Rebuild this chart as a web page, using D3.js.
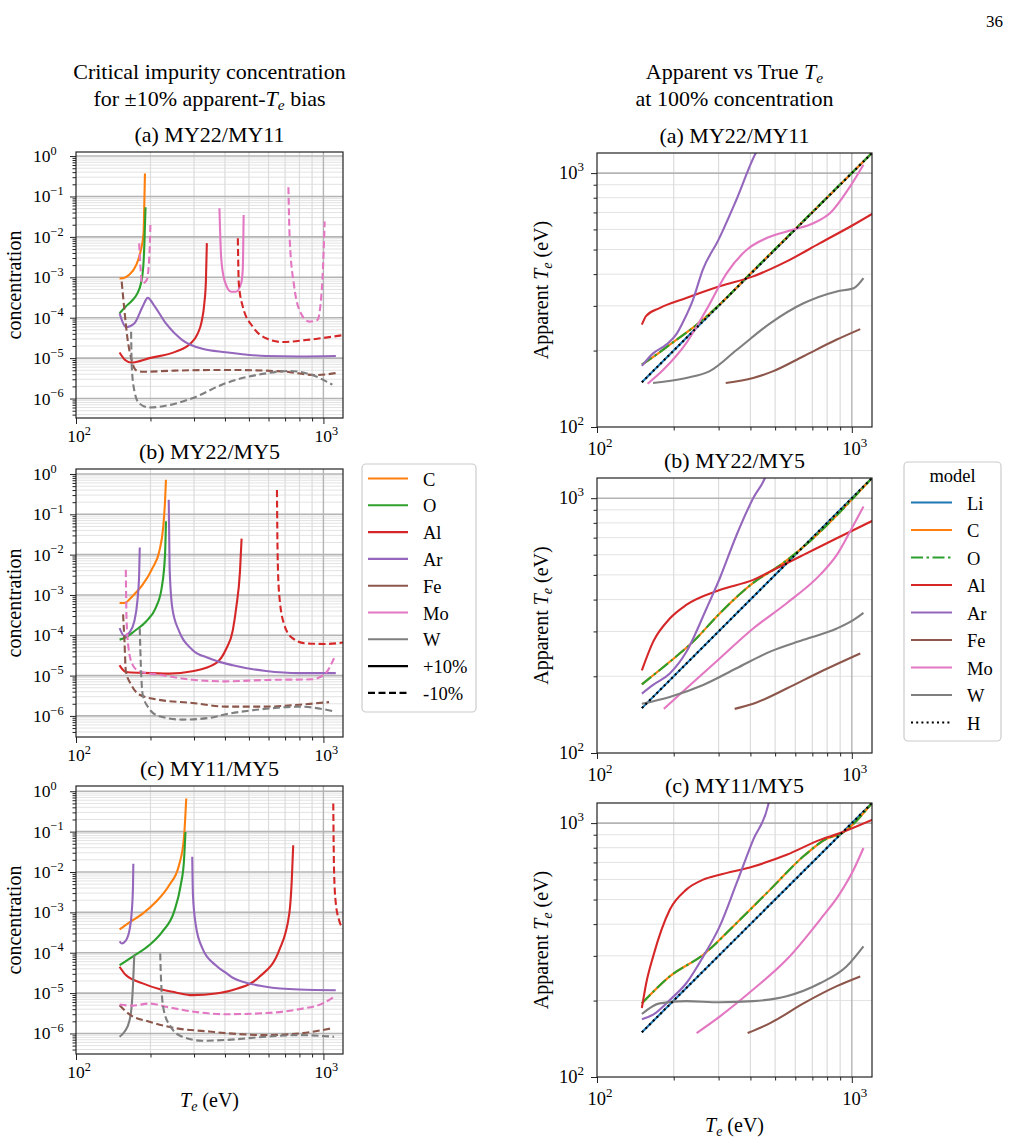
<!DOCTYPE html>
<html>
<head>
<meta charset="utf-8">
<title>Critical impurity concentration and apparent Te</title>
<script src="https://d3js.org/d3.v7.min.js"></script>
<style>
  body { margin: 0; background: #fff; }
  svg text { font-family: "Liberation Serif", "DejaVu Serif", serif; fill: #000; }
</style>
</head>
<body>
<svg id="fig" width="1017" height="1143"></svg>
<script>

// ---- data ------------------------------------------------------------
const elements = ["C", "O", "Al", "Ar", "Fe", "Mo", "W"];
const models = ["Li", "C", "O", "Al", "Ar", "Fe", "Mo", "W", "H"];
const colors = { Li: "#1f77b4", C: "#ff7f0e", O: "#2ca02c", Al: "#d62728", Ar: "#9467bd",
                 Fe: "#8c564b", Mo: "#e377c2", W: "#7f7f7f", H: "#000000" };
const panelTitles = ["(a) MY22/MY11", "(b) MY22/MY5", "(c) MY11/MY5"];
const concMajor = [1, 1e-1, 1e-2, 1e-3, 1e-4, 1e-5, 1e-6];
const teMajor = [100, 1000];
const teMinor = [200, 300, 400, 500, 600, 700, 800, 900];

// critical concentration, points are [true Te (eV), concentration]
const critA = [
  { el: "C", bias: "+", pts: [[150, 9.4e-4], [155, 9.5e-4], [164, 1.15e-3], [175, 2.0e-3], [183, 4.8e-3], [187.5, 1.22e-2], [189, 8.2e-2], [190, 0.37]] },
  { el: "O", bias: "+", pts: [[150, 1.29e-4], [159, 1.9e-4], [169, 2.7e-4], [177, 4.0e-4], [183, 7.1e-4], [187, 1.8e-3], [189, 6.9e-3], [191, 0.054]] },
  { el: "Al", bias: "+", pts: [[150, 1.38e-5], [158, 9e-6], [167, 7.8e-6], [198, 1e-5], [253, 1.45e-5], [290, 2.3e-5], [310, 4e-5], [322, 8e-5], [330, 2.2e-4], [335, 8e-4], [338, 7e-3]] },
  { el: "Ar", bias: "+", pts: [[150, 1.29e-4], [154, 8e-5], [159, 5.8e-5], [172, 7.2e-5], [186, 1.9e-4], [195, 3.1e-4], [207, 2.0e-4], [231, 7.2e-5], [269, 2.8e-5], [324, 1.7e-5], [403, 1.4e-5], [586, 1.13e-5], [798, 1.1e-5], [1123, 1.13e-5]] },
  { el: "Mo", bias: "+", pts: [[380, 0.051], [386, 3.2e-3], [398, 8.5e-4], [424, 4.4e-4], [443, 4.4e-4], [465, 7.1e-4], [472, 1.5e-3], [476, 0.035]] },
  { el: "Al", bias: "-", pts: [[451, 9.2e-3], [455, 7.1e-4], [472, 1.9e-4], [518, 6e-5], [586, 3.1e-5], [684, 2.5e-5], [849, 2.8e-5], [1200, 3.7e-5]] },
  { el: "Fe", bias: "-", pts: [[153, 7.8e-4], [157, 1.5e-4], [161, 3.5e-5], [167, 1e-5], [175, 5e-6], [185, 4.6e-6], [250, 4.9e-6], [403, 5.1e-6], [684, 4.7e-6], [931, 3.8e-6], [1156, 4.4e-6]] },
  { el: "Mo", bias: "-", pts: [[180, 6.9e-3], [182, 2e-3], [185, 7e-4], [193, 8.5e-4], [198, 3.5e-3], [200, 0.024]] },
  { el: "Mo", bias: "-", pts: [[722, 0.17], [731, 8.3e-3], [762, 5.9e-4], [811, 1.29e-4], [875, 8e-5], [946, 8.8e-5], [985, 4.9e-4], [1006, 8.3e-3], [1012, 0.024]] },
  { el: "W", bias: "-", pts: [[167, 4.5e-5], [168, 6.2e-6], [172, 1.6e-6], [180, 7.6e-7], [198, 6e-7], [238, 6.9e-7], [295, 1.02e-6], [403, 2.4e-6], [586, 4.2e-6], [728, 4.8e-6], [903, 3.8e-6], [1087, 2.2e-6]] }
];

const critB = [
  { el: "C", bias: "+", pts: [[150, 6.3e-4], [157, 6.3e-4], [169, 9.3e-4], [186, 1.8e-3], [204, 4.7e-3], [217, 0.012], [225, 0.046], [229, 0.21], [231, 0.72]] },
  { el: "O", bias: "+", pts: [[150, 7.8e-5], [159, 8.9e-5], [172, 1.26e-4], [192, 2.2e-4], [210, 4.8e-4], [222, 1.5e-3], [229, 0.01], [231, 0.067]] },
  { el: "Al", bias: "+", pts: [[150, 1.8e-5], [159, 1.23e-5], [186, 1.17e-5], [238, 1.12e-5], [295, 1.28e-5], [367, 2e-5], [404, 4.5e-5], [430, 1.3e-4], [444, 4.7e-4], [460, 3.8e-3], [467, 0.025]] },
  { el: "Ar", bias: "+", pts: [[150, 1.5e-4], [157, 9.5e-5], [164, 1.15e-4], [172, 2.2e-4], [177, 6.9e-4], [180, 3.2e-3], [181, 0.015]] },
  { el: "Ar", bias: "+", pts: [[237, 0.23], [239, 4.7e-3], [245, 4.8e-4], [261, 1.26e-4], [295, 4.4e-5], [345, 2.7e-5], [430, 1.8e-5], [586, 1.3e-5], [798, 1.15e-5], [1122, 1.15e-5]] },
  { el: "Al", bias: "-", pts: [[649, 0.40], [653, 9.8e-3], [663, 1e-3], [695, 1.8e-4], [750, 8.5e-5], [849, 6.3e-5], [1021, 6.1e-5], [1200, 6.6e-5]] },
  { el: "Fe", bias: "-", pts: [[155, 3.3e-4], [157, 7.1e-5], [159, 1.3e-5], [167, 6e-6], [180, 3.4e-6], [217, 2.5e-6], [295, 2.1e-6], [403, 1.7e-6], [586, 1.7e-6], [798, 1.9e-6], [1054, 2.2e-6]] },
  { el: "Mo", bias: "-", pts: [[159, 4.2e-3], [160, 2.7e-4], [163, 4.9e-5], [169, 1.9e-5], [180, 1.28e-5], [217, 1.05e-5], [295, 7.9e-6], [403, 7.2e-6], [586, 7.8e-6], [903, 8.1e-6], [1021, 1.15e-5], [1104, 2.7e-5]] },
  { el: "W", bias: "-", pts: [[181, 1.5e-4], [183, 1.55e-5], [186, 3.4e-6], [195, 1.7e-6], [217, 9.8e-7], [269, 8.1e-7], [345, 8.9e-7], [403, 1.1e-6], [586, 1.5e-6], [798, 1.7e-6], [1104, 1.3e-6]] }
];

const critC = [
  { el: "C", bias: "+", pts: [[150, 3.8e-4], [164, 5.6e-4], [186, 9.3e-4], [210, 1.8e-3], [238, 4.7e-3], [261, 0.015], [273, 0.068], [279, 0.66]] },
  { el: "O", bias: "+", pts: [[150, 4.9e-5], [169, 7.9e-5], [198, 1.55e-4], [223, 3.3e-4], [249, 1.03e-3], [265, 4.7e-3], [273, 0.018], [277, 0.098]] },
  { el: "Al", bias: "+", pts: [[150, 4.5e-5], [159, 2.8e-5], [186, 1.74e-5], [217, 1.26e-5], [253, 1.04e-5], [295, 8.9e-6], [367, 9.8e-6], [430, 1.2e-5], [550, 2.5e-5], [663, 1.16e-4], [728, 9.3e-4], [745, 6.3e-3], [755, 0.046]] },
  { el: "Ar", bias: "+", pts: [[150, 1.9e-4], [153, 1.7e-4], [159, 2e-4], [165, 4e-4], [168, 1.03e-3], [170, 4.7e-3], [170.5, 0.016]] },
  { el: "Ar", bias: "+", pts: [[295, 0.024], [297, 2.7e-3], [305, 4.8e-4], [324, 1.3e-4], [367, 4.9e-5], [403, 3.2e-5], [430, 2.4e-5], [586, 1.44e-5], [798, 1.23e-5], [1122, 1.18e-5]] },
  { el: "W", bias: "+", pts: [[150, 8.3e-7], [157, 1.1e-6], [164, 1.95e-6], [168, 5e-6], [170, 1.6e-5], [172, 8.7e-5]] },
  { el: "Al", bias: "-", pts: [[1096, 0.5], [1104, 0.011], [1122, 1.7e-3], [1157, 6.4e-4], [1200, 4e-4]] },
  { el: "Fe", bias: "-", pts: [[150, 5e-6], [164, 3e-6], [198, 1.95e-6], [253, 1.35e-6], [345, 1.12e-6], [403, 1.02e-6], [586, 9.1e-7], [798, 1e-6], [1087, 1.35e-6]] },
  { el: "Mo", bias: "-", pts: [[150, 5.2e-6], [169, 4.9e-6], [198, 5.5e-6], [231, 4.6e-6], [295, 3.5e-6], [403, 3e-6], [586, 3.2e-6], [798, 4e-6], [990, 5.5e-6], [1104, 8.1e-6]] },
  { el: "W", bias: "-", pts: [[219, 9.6e-5], [220, 3.4e-5], [222, 1.07e-5], [227, 3.5e-6], [241, 1.5e-6], [269, 8.3e-7], [324, 6.6e-7], [403, 6.9e-7], [586, 8.3e-7], [798, 9.1e-7], [1104, 8.3e-7]] }
];

// apparent vs true Te, points are [true Te (eV), apparent Te (eV)]
const identity = [[150, 150], [1200, 1200]];

const appA_CO = [[150, 176], [175, 196], [193, 211], [250, 256], [300, 301], [400, 402], [1200, 1200]];
const appA = {
  Li: identity, C: appA_CO, O: appA_CO,
  Al: [[150, 253], [156, 274], [176, 294], [224, 322], [303, 358], [410, 392], [555, 449], [750, 530], [1016, 626], [1205, 692]],
  Ar: [[150, 174], [166, 195], [187, 211], [205, 232], [220, 265], [238, 317], [260, 416], [300, 547], [350, 773], [420, 1200], [440, 1300]],
  Fe: [[320, 149], [410, 156], [492, 166], [646, 190], [873, 221], [1079, 243]],
  Mo: [[158, 148], [182, 168], [224, 214], [269, 290], [323, 404], [387, 499], [463, 555], [590, 599], [707, 635], [822, 696], [984, 885], [1111, 1079]],
  W: [[166, 149], [224, 156], [277, 166], [353, 201], [478, 256], [646, 307], [873, 342], [1016, 352], [1111, 386]],
  H: identity
};

const appB_CO = [[150, 186], [193, 228], [238, 273], [303, 353], [410, 465], [522, 545], [600, 606], [1200, 1200]];
const appB = {
  Li: identity, C: appB_CO, O: appB_CO,
  Al: [[150, 211], [166, 273], [193, 337], [224, 381], [303, 436], [410, 478], [507, 531], [646, 599], [873, 696], [1205, 815]],
  Ar: [[150, 171], [166, 185], [193, 205], [224, 249], [269, 369], [303, 484], [353, 717], [410, 1000], [456, 1200], [470, 1300]],
  Fe: [[347, 149], [410, 156], [555, 179], [750, 208], [1079, 246]],
  Mo: [[183, 149], [224, 179], [303, 235], [410, 308], [555, 387], [750, 500], [873, 599], [984, 740], [1111, 927]],
  W: [[150, 156], [193, 166], [261, 185], [353, 215], [478, 250], [646, 278], [873, 308], [1016, 333], [1111, 355]],
  H: identity
};

const appC_CO = [[150, 195], [193, 249], [261, 303], [353, 404], [478, 547], [646, 740], [800, 870], [900, 905], [1200, 1200]];
const appC = {
  Li: identity, C: appC_CO, O: appC_CO,
  Al: [[150, 187], [156, 234], [166, 298], [193, 456], [224, 547], [261, 599], [303, 626], [410, 675], [555, 750], [750, 859], [900, 914], [1205, 1031]],
  Ar: [[150, 169], [166, 176], [193, 201], [224, 234], [261, 298], [303, 392], [353, 580], [410, 859], [470, 1180], [480, 1300]],
  Fe: [[390, 149], [478, 163], [646, 195], [873, 228], [1079, 249]],
  Mo: [[246, 149], [303, 173], [410, 221], [555, 290], [750, 416], [900, 530], [1016, 655], [1111, 798]],
  W: [[150, 177], [176, 195], [224, 199], [303, 197], [410, 199], [555, 208], [750, 234], [955, 273], [1111, 327]],
  H: identity
};

// ---- drawing ---------------------------------------------------------
const svg = d3.select("#fig");

const leftPanels = [
  { data: critA, x0: 76, x1: 343, y0: 152, y1: 418, yDom: [3.3e-7, 1.26] },
  { data: critB, x0: 76, x1: 343, y0: 469, y1: 737, yDom: [3.0e-7, 1.33] },
  { data: critC, x0: 76, x1: 343, y0: 786, y1: 1054, yDom: [3.1e-7, 1.35] }
];
const rightPanels = [
  { data: appA, x0: 597, x1: 872, y0: 153, y1: 427 },
  { data: appB, x0: 597, x1: 872, y0: 478, y1: 753 },
  { data: appC, x0: 597, x1: 872, y0: 803, y1: 1077 }
];

// text with optional italic / sub / superscript parts
function richText(g, x, y, parts, size, anchor) {
  const t = g.append("text").attr("x", x).attr("y", y)
    .attr("text-anchor", anchor || "middle").style("font-size", size + "px");
  let shift = 0;
  parts.forEach(p => {
    if (typeof p === "string") p = { t: p };
    const ts = t.append("tspan").text(p.t);
    const target = p.sub ? size * 0.18 : p.sup ? -size * 0.42 : 0;
    if (target !== shift) { ts.attr("dy", target - shift); shift = target; }
    if (p.sub || p.sup) ts.style("font-size", (size * 0.7) + "px");
    if (p.i) ts.style("font-style", "italic");
  });
  return t;
}
function powParts(v) {
  const e = Math.round(Math.log10(v));
  return ["10", { t: e < 0 ? "\u2212" + (-e) : String(e), sup: true }];
}
const TE = [{ t: "T", i: true }, { t: "e", i: true, sub: true }];

let clipId = 0;
function makeClip(p) {
  const id = "clip" + (clipId++);
  svg.append("clipPath").attr("id", id).append("rect")
    .attr("x", p.x0).attr("y", p.y0).attr("width", p.x1 - p.x0).attr("height", p.y1 - p.y0);
  return id;
}

function minorValues(dom) {
  const out = [];
  const lo = Math.floor(Math.log10(dom[0])), hi = Math.ceil(Math.log10(dom[1]));
  for (let d = lo; d <= hi; d++) {
    for (let k = 2; k <= 9; k++) {
      const v = k * Math.pow(10, d);
      if (v > dom[0] && v < dom[1]) out.push(v);
    }
  }
  return out;
}

function drawGrid(g, p, x, y, yMajor, yMinor, xMajor, xMinor) {
  g.selectAll(".gyn").data(yMinor).enter().append("line")
    .attr("x1", p.x0).attr("x2", p.x1).attr("y1", d => y(d)).attr("y2", d => y(d))
    .attr("stroke", "#e3e3e3").attr("stroke-width", 1);
  g.selectAll(".gxn").data(xMinor).enter().append("line")
    .attr("y1", p.y0).attr("y2", p.y1).attr("x1", d => x(d)).attr("x2", d => x(d))
    .attr("stroke", "#dcdcdc").attr("stroke-width", 1.2);
  g.selectAll(".gyj").data(yMajor).enter().append("line")
    .attr("x1", p.x0).attr("x2", p.x1).attr("y1", d => y(d)).attr("y2", d => y(d))
    .attr("stroke", "#b4b4b4").attr("stroke-width", 1.6);
  g.selectAll(".gxj").data(xMajor).enter().append("line")
    .attr("y1", p.y0).attr("y2", p.y1).attr("x1", d => x(d)).attr("x2", d => x(d))
    .attr("stroke", "#b4b4b4").attr("stroke-width", 1.4);
}

function drawTicks(g, p, x, y, yMajor, yMinor, xMajor, xMinor) {
  const ax = (gen) => gen.tickFormat("").tickSizeOuter(0);
  g.append("g").attr("transform", `translate(0,${p.y1})`)
    .call(ax(d3.axisBottom(x).tickValues(xMajor).tickSize(6)));
  g.append("g").attr("transform", `translate(0,${p.y1})`)
    .call(ax(d3.axisBottom(x).tickValues(xMinor).tickSize(3.5)));
  g.append("g").attr("transform", `translate(${p.x0},0)`)
    .call(ax(d3.axisLeft(y).tickValues(yMajor).tickSize(6)));
  g.append("g").attr("transform", `translate(${p.x0},0)`)
    .call(ax(d3.axisLeft(y).tickValues(yMinor).tickSize(3.5)));
  g.selectAll(".domain").remove();
  g.selectAll(".tick line").attr("stroke", "#222").attr("stroke-width", 1);
  g.append("rect").attr("x", p.x0).attr("y", p.y0)
    .attr("width", p.x1 - p.x0).attr("height", p.y1 - p.y0)
    .attr("fill", "none").attr("stroke", "#222").attr("stroke-width", 1.2);
}

const dashFor = { "+": null, "-": "7,3.5" };

// left column: critical concentration
leftPanels.forEach((p, i) => {
  const g = svg.append("g");
  const x = d3.scaleLog().domain([100, 1200]).range([p.x0, p.x1]);
  const y = d3.scaleLog().domain(p.yDom).range([p.y1, p.y0]);
  const yMinor = minorValues(p.yDom);
  drawGrid(g, p, x, y, concMajor, yMinor, [1000], teMinor);

  const cid = makeClip(p);
  const line = d3.line().x(d => x(d[0])).y(d => y(d[1])).curve(d3.curveMonotoneX);
  const lg = g.append("g").attr("clip-path", `url(#${cid})`);
  ["+", "-"].forEach(b => {
    elements.forEach(el => {
      p.data.filter(s => s.el === el && s.bias === b).forEach(s => {
        lg.append("path").attr("d", line(s.pts)).attr("fill", "none")
          .attr("stroke", colors[el]).attr("stroke-width", 2.1)
          .attr("stroke-dasharray", dashFor[b]);
      });
    });
  });

  drawTicks(g, p, x, y, concMajor, yMinor, teMajor, teMinor);

  concMajor.forEach(v => richText(g, 33, y(v) + 6, powParts(v), 17.5, "start"));
  teMajor.forEach(v => richText(g, x(v) + 3, p.y1 + 24, powParts(v), 17.5, "middle"));

  richText(g, (p.x0 + p.x1) / 2, p.y0 - 10, [panelTitles[i]], 22);
  const yl = g.append("g").attr("transform", `translate(21,${(p.y0 + p.y1) / 2}) rotate(-90)`);
  richText(yl, 0, 0, ["concentration"], 20);
});

// right column: apparent vs true Te
const appMajor = [100, 1000];
rightPanels.forEach((p, i) => {
  const g = svg.append("g");
  const x = d3.scaleLog().domain([100, 1200]).range([p.x0, p.x1]);
  const y = d3.scaleLog().domain([100, 1200]).range([p.y1, p.y0]);
  drawGrid(g, p, x, y, [1000], teMinor, [1000], teMinor);

  const cid = makeClip(p);
  const line = d3.line().x(d => x(d[0])).y(d => y(d[1])).curve(d3.curveMonotoneX);
  const lg = g.append("g").attr("clip-path", `url(#${cid})`);
  models.forEach(m => {
    const path = lg.append("path").attr("d", line(p.data[m])).attr("fill", "none")
      .attr("stroke", colors[m]).attr("stroke-width", 2.1);
    if (m === "O") path.attr("stroke-dasharray", "12,3.5,2.5,3.5");
    if (m === "H") path.attr("stroke-dasharray", "2,3.2");
  });

  drawTicks(g, p, x, y, appMajor, teMinor, teMajor, teMinor);

  appMajor.forEach(v => richText(g, 559, y(v) + 6, powParts(v), 18.5, "start"));
  teMajor.forEach(v => richText(g, x(v) + 3, p.y1 + 28, powParts(v), 18.5, "middle"));

  richText(g, (p.x0 + p.x1) / 2, p.y0 - 10, [panelTitles[i]], 22);
  const yl = g.append("g").attr("transform", `translate(548,${(p.y0 + p.y1) / 2}) rotate(-90)`);
  richText(yl, 0, 0, ["Apparent ", ...TE, " (eV)"], 20);
});

// x labels under bottom panels
richText(svg, 209.5, 1107, [...TE, " (eV)"], 20);
richText(svg, 734.5, 1132, [...TE, " (eV)"], 20);

// column titles and page number
richText(svg, 209.5, 79, ["Critical impurity concentration"], 22);
richText(svg, 209.5, 106, ["for \u00b110% apparent-", ...TE, " bias"], 22);
richText(svg, 734.5, 79, ["Apparent vs True ", ...TE], 22);
richText(svg, 734.5, 106, ["at 100% concentration"], 22);
richText(svg, 1003, 27, ["36"], 17, "end");

// legend 1: elements and bias
const leg1 = svg.append("g");
leg1.append("rect").attr("x", 362).attr("y", 464).attr("width", 114).attr("height", 248)
  .attr("rx", 4).attr("fill", "#fff").attr("stroke", "#cccccc").attr("stroke-width", 1.2);
const leg1Items = elements.map(el => ({ label: el, color: colors[el], dash: null }))
  .concat([{ label: "+10%", color: "#000", dash: null }, { label: "-10%", color: "#000", dash: "7,3.5" }]);
leg1Items.forEach((it, k) => {
  const yy = 478.5 + k * 26.8;
  leg1.append("line").attr("x1", 368).attr("x2", 408).attr("y1", yy).attr("y2", yy)
    .attr("stroke", it.color).attr("stroke-width", 2.1).attr("stroke-dasharray", it.dash);
  richText(leg1, 423, yy + 7, [it.label], 18.5, "start");
});

// legend 2: model
const leg2 = svg.append("g");
leg2.append("rect").attr("x", 904).attr("y", 462).attr("width", 97).attr("height", 279)
  .attr("rx", 4).attr("fill", "#fff").attr("stroke", "#cccccc").attr("stroke-width", 1.2);
richText(leg2, 952.5, 482, ["model"], 18.5);
models.forEach((m, k) => {
  const yy = 502.5 + k * 27.5;
  const ln = leg2.append("line").attr("x1", 911).attr("x2", 952).attr("y1", yy).attr("y2", yy)
    .attr("stroke", colors[m]).attr("stroke-width", 2.1);
  if (m === "O") ln.attr("stroke-dasharray", "12,3.5,2.5,3.5");
  if (m === "H") ln.attr("stroke-dasharray", "2,3.2");
  richText(leg2, 967, yy + 7, [m], 18.5, "start");
});

</script>
</body>
</html>
